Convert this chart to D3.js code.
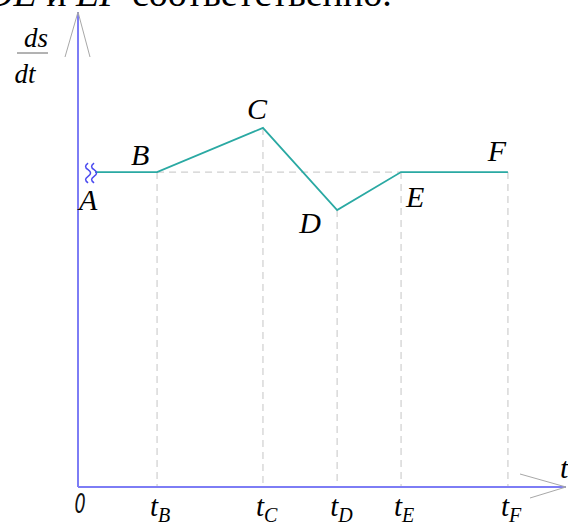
<!DOCTYPE html>
<html><head><meta charset="utf-8">
<script src="https://cdn.jsdelivr.net/npm/d3@7"></script>
<style>body{margin:0;background:#fff;}svg{display:block;}
.serif{font-family:"Liberation Serif","Times New Roman","DejaVu Serif",serif;}
</style>
</head><body>
<script>
// Data
const points = ["A","B","C","D","E","F"];
const times = [3.5, 16.2, 37.9, 53.1, 66.2, 88.1];      // t values
const speeds = [66.3, 66.3, 75.6, 58.3, 66.3, 66.3];    // ds/dt values
const tickLabels = ["B","C","D","E","F"];               // t subscripts
const tickTimes = [16.2, 37.9, 53.1, 66.2, 88.1];

const W = 568, H = 523;
const svg = d3.select("body").append("svg").attr("width", W).attr("height", H);
const x = d3.scaleLinear().domain([0, 100]).range([78, 566]);
const y = d3.scaleLinear().domain([0, 100]).range([487, 12]);

// top cut-off text
const topText = svg.append("text").attr("class", "serif").attr("x", -14).attr("y", 6)
  .attr("font-size", 38).attr("fill", "#000");
topText.append("tspan").attr("font-style", "italic").text("DE");
topText.append("tspan").text(" и ");
topText.append("tspan").attr("font-style", "italic").text("EF");
topText.append("tspan").text(" соответственно.");

// dashed guide lines
const dash = svg.append("g").attr("stroke", "#cfcfcf").attr("stroke-width", 1.2).attr("stroke-dasharray", "7,5").attr("fill", "none");
dash.append("line").attr("x1", x(times[1])).attr("x2", x(times[4])).attr("y1", y(speeds[1])).attr("y2", y(speeds[1]));
times.slice(1).forEach((t, i) => {
  dash.append("line").attr("x1", x(t)).attr("x2", x(t)).attr("y1", y(speeds[i+1])).attr("y2", y(0));
});

// axes
const axisColor = "#7d7df5";
svg.append("line").attr("x1", x(0)).attr("x2", x(0)).attr("y1", y(0)).attr("y2", y(100))
  .attr("stroke", axisColor).attr("stroke-width", 2);
svg.append("line").attr("x1", x(0)).attr("x2", x(100)).attr("y1", y(0)).attr("y2", y(0))
  .attr("stroke", axisColor).attr("stroke-width", 2);
// arrow heads (thin gray)
const ah = svg.append("g").attr("stroke", "#a8a8a8").attr("stroke-width", 1).attr("fill", "none");
ah.append("polyline").attr("points", `${x(0)-13},${y(100)+45} ${x(0)},${y(100)} ${x(0)+12},${y(100)+45}`);
ah.append("polyline").attr("points", `${x(100)-46},${y(0)-13} ${x(100)},${y(0)} ${x(100)-36},${y(0)+11}`);

// curve
const line = d3.line().x((d, i) => x(times[i])).y((d, i) => y(speeds[i]));
svg.append("path").datum(speeds).attr("d", line).attr("fill", "none")
  .attr("stroke", "#2aa9a3").attr("stroke-width", 1.8);

// break symbol near A
const bx = x(times[0]), by = y(speeds[0]);
[-8, -2].forEach(off => {
  const cx = bx + off;
  svg.append("path")
    .attr("d", `M${cx+1},${by-9} q-5,3.3 0,6.6 q5,3.3 0,6.6 q-5,3.3 0,6.6`)
    .attr("fill", "none").attr("stroke", "#4a4af0").attr("stroke-width", 1.5);
});

// point labels
const labelOffsets = [[-7, 38], [-17, -7], [-6, -9], [-27, 23], [14, 35], [-11, -11]];
points.forEach((p, i) => {
  svg.append("text").attr("class", "serif").attr("x", x(times[i]) + labelOffsets[i][0]).attr("y", y(speeds[i]) + labelOffsets[i][1])
    .attr("font-style", "italic").attr("font-size", 30)
    .attr("text-anchor", "middle").text(p);
});

// y axis label ds/dt
svg.append("text").attr("class", "serif").attr("x", 36).attr("y", 47).attr("text-anchor", "middle")
  .attr("font-style", "italic").attr("font-size", 27).text("ds");
svg.append("line").attr("x1", 17).attr("x2", 48).attr("y1", 53).attr("y2", 53).attr("stroke", "#666").attr("stroke-width", 1);
svg.append("text").attr("class", "serif").attr("x", 25).attr("y", 83).attr("text-anchor", "middle")
  .attr("font-style", "italic").attr("font-size", 27).text("dt");

// x axis label t
svg.append("text").attr("class", "serif").attr("x", 560).attr("y", 478)
  .attr("font-style", "italic").attr("font-size", 30).text("t");

// origin 0
svg.append("text").attr("x", 80).attr("y", 513).attr("text-anchor", "middle")
  .attr("font-family", "DejaVu Sans Condensed, DejaVu Sans, sans-serif").attr("font-style", "italic")
  .attr("font-weight", 300).attr("font-size", 26).attr("fill", "#111")
  .attr("transform", "translate(80,513) scale(0.75,1) translate(-80,-513)").text("0");

// tick labels t_X
tickTimes.forEach((t, i) => {
  const g = svg.append("text").attr("class", "serif").attr("x", x(t) - 7).attr("y", 516)
    .attr("font-style", "italic").attr("font-size", 29);
  g.append("tspan").text("t");
  g.append("tspan").attr("dy", 6).attr("font-size", 20).text(tickLabels[i]);
});
</script>
</body></html>
